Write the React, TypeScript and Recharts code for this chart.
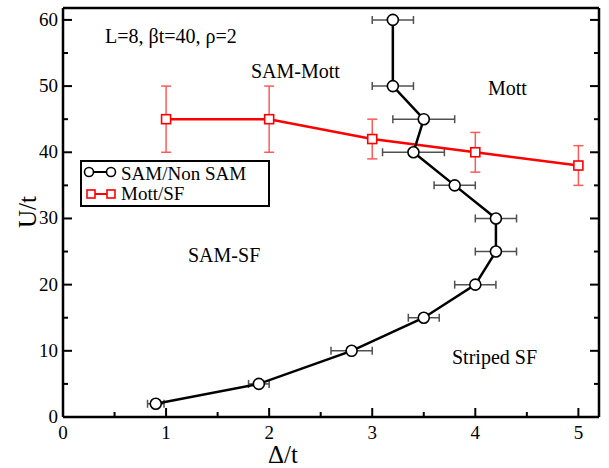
import React from 'react';
import { ScatterChart, Scatter, XAxis, YAxis, ErrorBar } from 'recharts';

// SAM / Non SAM boundary (black circles, horizontal error)
const samDelta = [0.9, 1.9, 2.8, 3.5, 4.0, 4.2, 4.2, 3.8, 3.4, 3.5, 3.2, 3.2];
const samU = [2, 5, 10, 15, 20, 25, 30, 35, 40, 45, 50, 60];
const samErr = [0.08, 0.1, 0.2, 0.15, 0.2, 0.2, 0.2, 0.2, 0.3, 0.3, 0.2, 0.2];

// Mott / SF boundary (red squares, vertical error)
const mottDelta = [1, 2, 3, 4, 5];
const mottU = [45, 45, 42, 40, 38];
const mottErr = [5, 5, 3, 3, 3];

const xTicks = [0, 0.5, 1, 1.5, 2, 2.5, 3, 3.5, 4, 4.5, 5];
const yTicks = [0, 5, 10, 15, 20, 25, 30, 35, 40, 45, 50, 55, 60];

const samData = samDelta.map((d, i) => ({ x: d, y: samU[i], ex: samErr[i] }));
const mottData = mottDelta.map((d, i) => ({ x: d, y: mottU[i], ey: mottErr[i] }));

const FONT = '"Liberation Serif", "Times New Roman", serif';

const isMajor = (v: number, step: number) => Math.abs(v / step - Math.round(v / step)) < 1e-6;

const BottomTick = (props: any) => {
  const { x, y, payload } = props;
  const major = isMajor(payload.value, 1);
  return (
    <g>
      <line x1={x} x2={x} y1={y} y2={y - (major ? 9 : 5)} stroke="#000" strokeWidth={2} />
      {major && (
        <text x={x} y={y + 22} textAnchor="middle" fontSize={19} fontFamily={FONT} fill="#000">
          {payload.value}
        </text>
      )}
    </g>
  );
};

const TopTick = (props: any) => {
  const { x, y, payload } = props;
  const major = isMajor(payload.value, 1);
  return <line x1={x} x2={x} y1={y} y2={y + (major ? 9 : 5)} stroke="#000" strokeWidth={2} />;
};

const LeftTick = (props: any) => {
  const { x, y, payload } = props;
  const major = isMajor(payload.value, 10);
  return (
    <g>
      <line x1={x} x2={x + (major ? 9 : 5)} y1={y} y2={y} stroke="#000" strokeWidth={2} />
      {major && (
        <text x={x - 5} y={y + 6} textAnchor="end" fontSize={19} fontFamily={FONT} fill="#000">
          {payload.value}
        </text>
      )}
    </g>
  );
};

const RightTick = (props: any) => {
  const { x, y, payload } = props;
  const major = isMajor(payload.value, 10);
  return <line x1={x} x2={x - (major ? 9 : 5)} y1={y} y2={y} stroke="#000" strokeWidth={2} />;
};

const Circle = (props: any) => (
  <circle cx={props.cx} cy={props.cy} r={5.5} fill="#fff" stroke="#000" strokeWidth={1.6} />
);

const Square = (props: any) => (
  <rect x={props.cx - 4.5} y={props.cy - 4.5} width={9} height={9} fill="#fff" stroke="#ff0000" strokeWidth={1.6} />
);

const axisLine = { stroke: '#000', strokeWidth: 2.5 };

export default function App() {
  return (
    <div style={{ position: 'absolute', left: 0, top: 0, background: '#fff' }}>
      <ScatterChart width={609} height={468} margin={{ top: 0, right: 0, bottom: 0, left: 0 }}>
        <XAxis
          xAxisId="b"
          type="number"
          dataKey="x"
          orientation="bottom"
          domain={[0, 5.2]}
          ticks={xTicks}
          height={51}
          tickSize={0}
          tickMargin={0}
          tickLine={false}
          axisLine={axisLine}
          tick={<BottomTick />}
          allowDataOverflow
        />
        <XAxis
          xAxisId="t"
          type="number"
          orientation="top"
          domain={[0, 5.2]}
          ticks={xTicks}
          height={8}
          tickSize={0}
          tickMargin={0}
          tickLine={false}
          axisLine={axisLine}
          tick={<TopTick />}
          allowDataOverflow
        />
        <YAxis
          yAxisId="l"
          type="number"
          dataKey="y"
          orientation="left"
          domain={[0, 61.8]}
          ticks={yTicks}
          width={63}
          tickSize={0}
          tickMargin={0}
          tickLine={false}
          axisLine={axisLine}
          tick={<LeftTick />}
          allowDataOverflow
        />
        <YAxis
          yAxisId="r"
          type="number"
          orientation="right"
          domain={[0, 61.8]}
          ticks={yTicks}
          width={10}
          tickSize={0}
          tickMargin={0}
          tickLine={false}
          axisLine={axisLine}
          tick={<RightTick />}
          allowDataOverflow
        />
        <Scatter
          xAxisId="b"
          yAxisId="l"
          data={mottData}
          line={{ stroke: '#ff0000', strokeWidth: 2.5 }}
          lineType="joint"
          shape={<Square />}
          isAnimationActive={false}
        >
          <ErrorBar dataKey="ey" direction="y" width={5} stroke="#ff5a5a" strokeWidth={1.5} />
        </Scatter>
        <Scatter
          xAxisId="b"
          yAxisId="l"
          data={samData}
          line={{ stroke: '#000', strokeWidth: 2.5 }}
          lineType="joint"
          shape={<Circle />}
          isAnimationActive={false}
        >
          <ErrorBar dataKey="ex" direction="x" width={4} stroke="#505050" strokeWidth={1.5} />
        </Scatter>

        <g fontFamily={FONT} fill="#000">
          <text x={105} y={43} fontSize={20}>L=8, βt=40, ρ=2</text>
          <text x={251} y={78} fontSize={20}>SAM-Mott</text>
          <text x={488} y={95} fontSize={20}>Mott</text>
          <text x={188} y={262} fontSize={20}>SAM-SF</text>
          <text x={452} y={364} fontSize={20}>Striped SF</text>
          <text x={283} y={463} fontSize={25} textAnchor="middle">Δ/t</text>
          <text x={36} y={212} fontSize={25} textAnchor="middle" transform="rotate(-90 36 212)">U/t</text>
        </g>

        <g fontFamily={FONT}>
          <rect x={81} y={161} width={188} height={45} fill="#fff" stroke="#000" strokeWidth={2} />
          <line x1={89} x2={111} y1={172} y2={172} stroke="#000" strokeWidth={2} />
          <circle cx={89} cy={172} r={4.5} fill="#fff" stroke="#000" strokeWidth={1.6} />
          <circle cx={111} cy={172} r={4.5} fill="#fff" stroke="#000" strokeWidth={1.6} />
          <text x={121} y={180} fontSize={19} fill="#000">SAM/Non SAM</text>
          <line x1={91} x2={111} y1={194} y2={194} stroke="#ff0000" strokeWidth={2} />
          <rect x={87} y={190} width={8} height={8} fill="#fff" stroke="#ff0000" strokeWidth={1.6} />
          <rect x={107} y={190} width={8} height={8} fill="#fff" stroke="#ff0000" strokeWidth={1.6} />
          <text x={121} y={200} fontSize={19} fill="#000">Mott/SF</text>
        </g>
      </ScatterChart>
    </div>
  );
}
